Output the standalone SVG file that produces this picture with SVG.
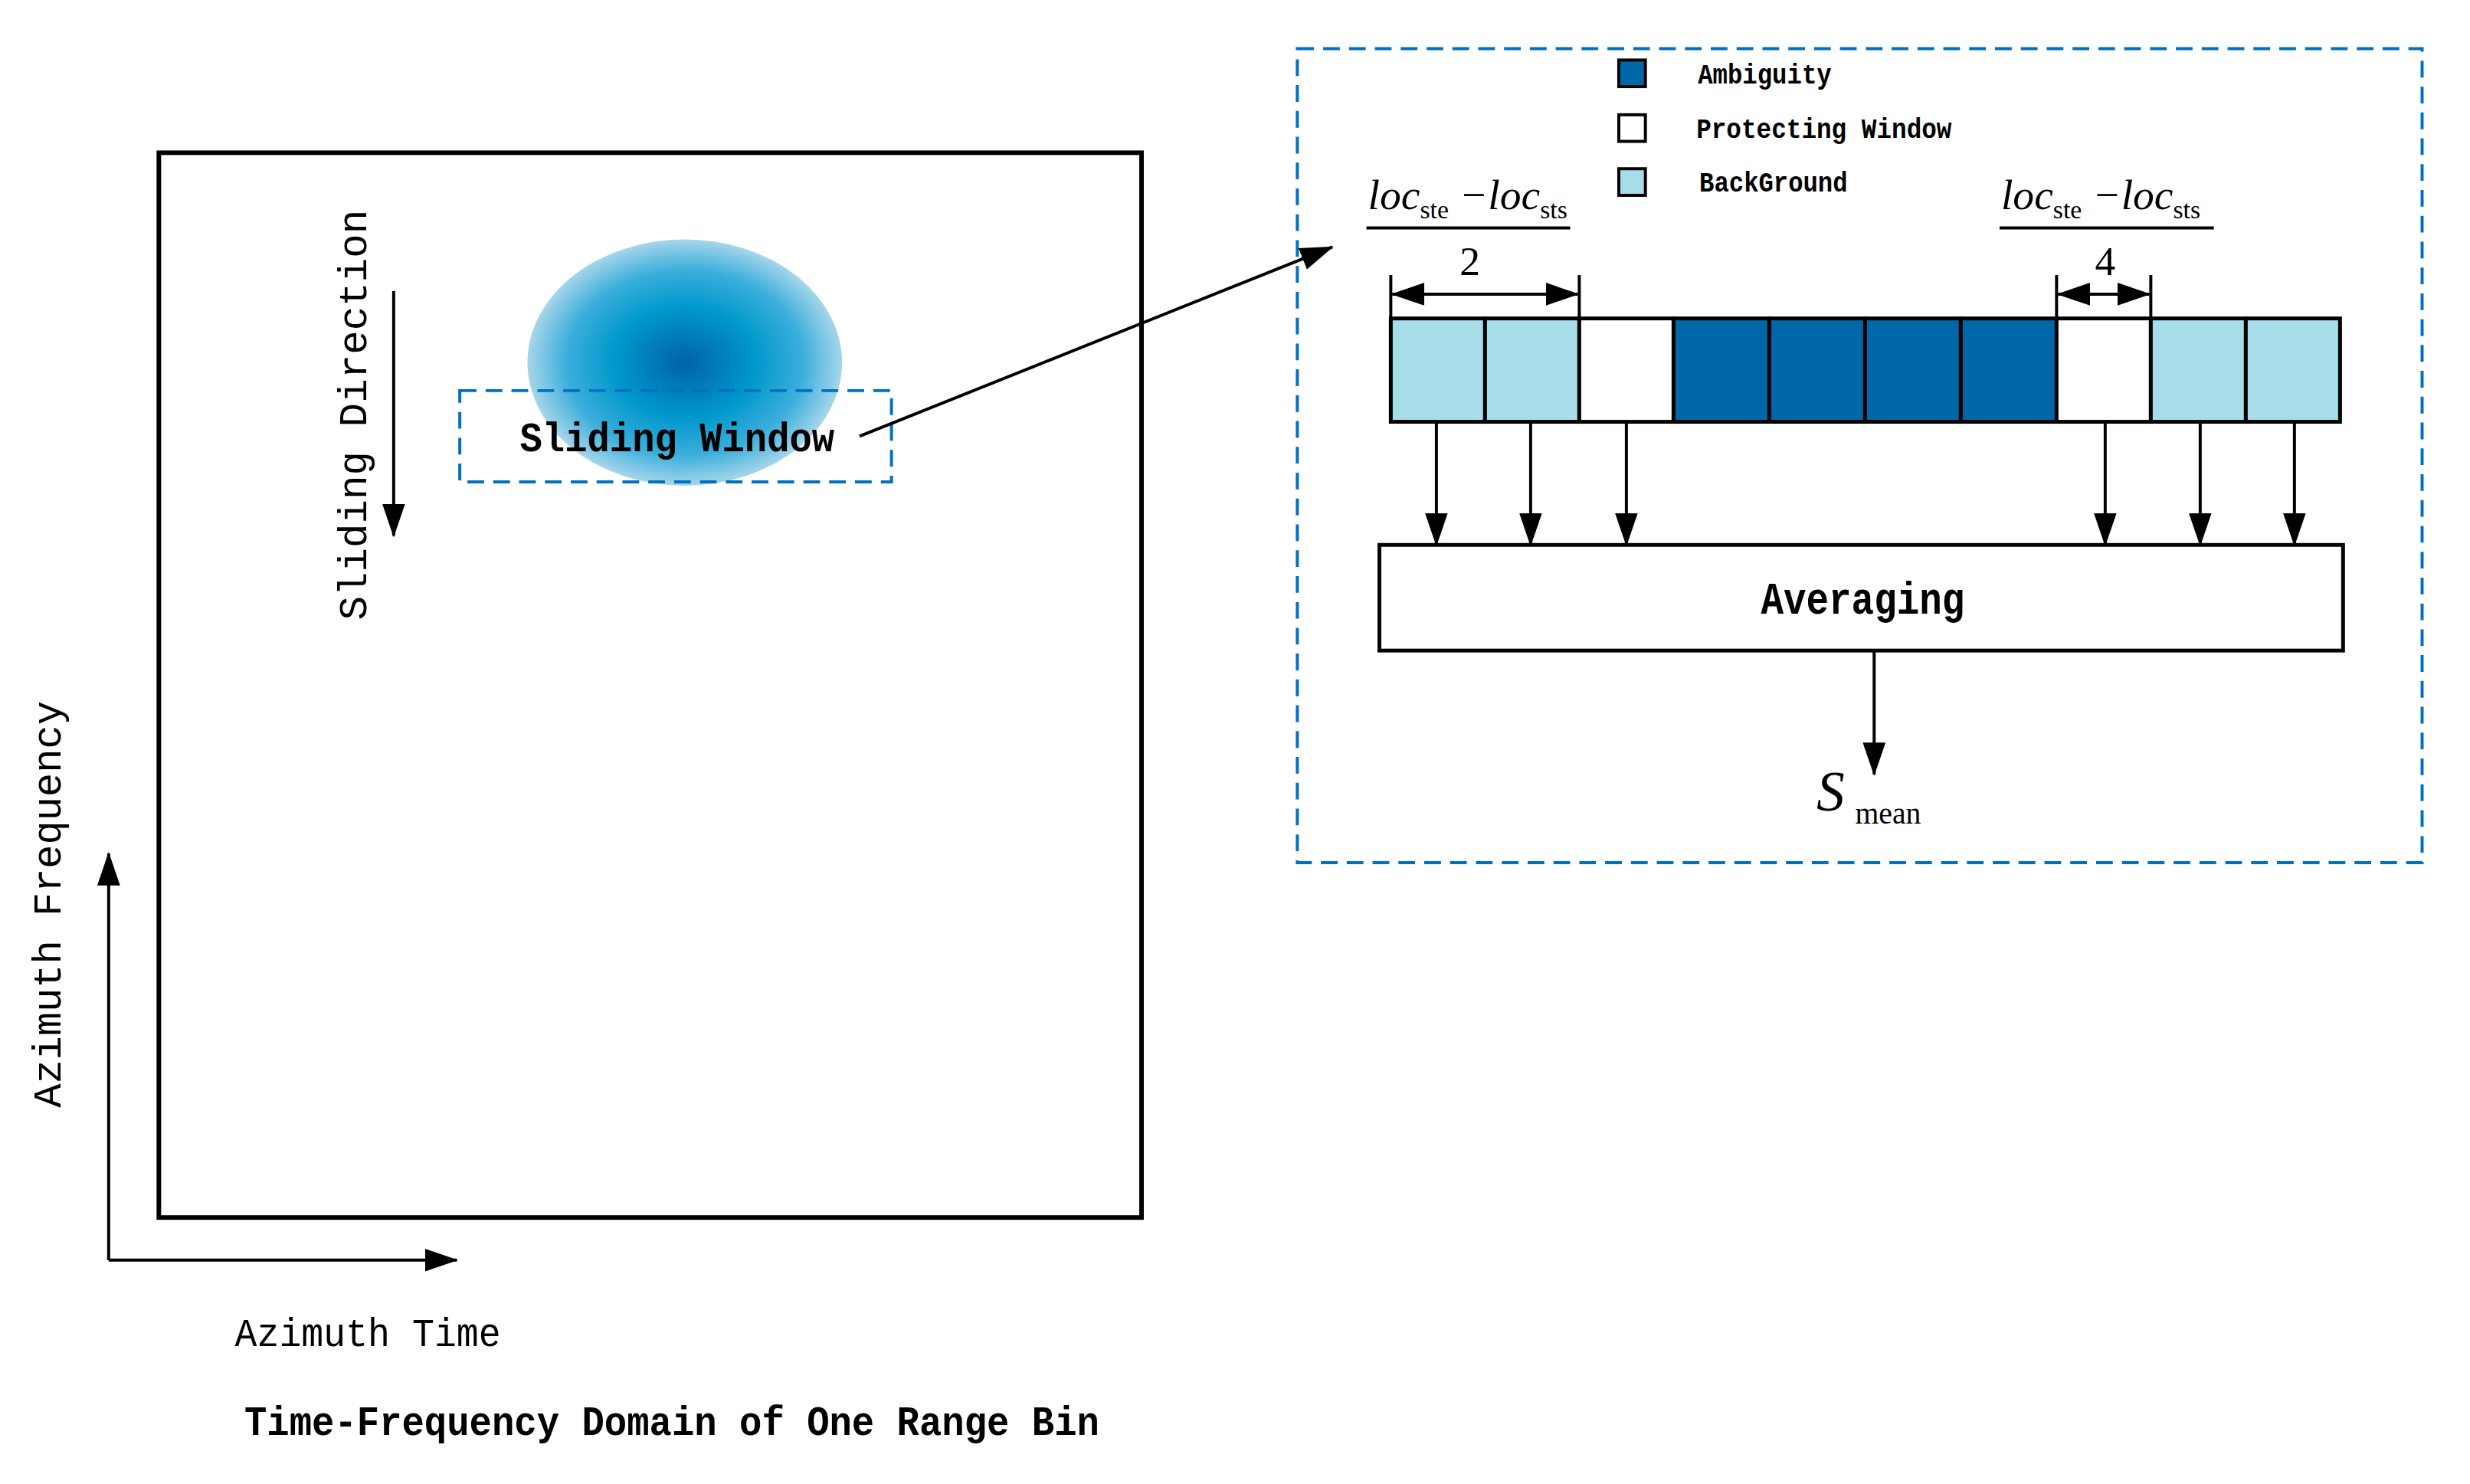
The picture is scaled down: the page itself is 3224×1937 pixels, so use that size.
<svg xmlns="http://www.w3.org/2000/svg" width="3224" height="1937" viewBox="0 0 3224 1937">
<defs>
<marker id="ah" markerUnits="userSpaceOnUse" markerWidth="44" markerHeight="30" refX="42" refY="15" orient="auto-start-reverse"><path d="M0,0 L44,15 L0,30 z" fill="#000"/></marker>
<radialGradient id="blob" cx="0.5" cy="0.5" r="0.5">
<stop offset="0" stop-color="#0062a8"/><stop offset="0.45" stop-color="#0098cc"/><stop offset="0.75" stop-color="#3aaedb"/><stop offset="1" stop-color="#a6d6ea"/>
</radialGradient>
<style>
.ln{stroke:#000;stroke-width:4;fill:none}
.bx{stroke:#000;stroke-width:5;fill:#fff}
.cell{stroke:#000;stroke-width:5}
.lb{fill:#a6dde8}.dk{fill:#0068a8}.wh{fill:#fff}
.dash{stroke:#0070c0;stroke-width:4;fill:none;stroke-dasharray:22 12}
.mono{font-family:"Liberation Mono","DejaVu Sans Mono",monospace}
.ser{font-family:"Liberation Serif","DejaVu Serif",serif}
</style>
</defs>
<rect width="3224" height="1937" fill="#fff"/>
<g transform="scale(0.992)">
<g id="domain">
<rect x="209" y="201" width="1293" height="1401" class="bx" style="fill:none;stroke-width:6"/>
<ellipse cx="901" cy="477" rx="207" ry="162" fill="url(#blob)"/>
</g>
<g id="sliding-window">
<rect x="605" y="514" width="568" height="120" class="dash"/>
<text x="891" y="594" class="mono" font-weight="bold" font-size="54" text-anchor="middle" textLength="414" lengthAdjust="spacingAndGlyphs">Sliding Window</text>
</g>
<g id="labels" class="mono">
<text transform="translate(482,546) rotate(-90)" font-size="52" text-anchor="middle" textLength="540" lengthAdjust="spacingAndGlyphs">Sliding Direction</text>
<text transform="translate(80,1190) rotate(-90)" font-size="52" text-anchor="middle" textLength="535" lengthAdjust="spacingAndGlyphs">Azimuth Frequency</text>
<text x="484" y="1771" font-size="52" text-anchor="middle" textLength="350" lengthAdjust="spacingAndGlyphs">Azimuth Time</text>
<text x="884" y="1888" font-size="54" font-weight="bold" text-anchor="middle" textLength="1125" lengthAdjust="spacingAndGlyphs">Time-Frequency Domain of One Range Bin</text>
</g>
<g id="panel">
<rect x="1707" y="64" width="1480" height="1071" class="dash"/>
</g>
<g id="legend" class="mono" font-weight="bold" font-size="38">
<rect x="2130" y="79" width="35" height="35" class="cell dk" style="stroke-width:4"/>
<rect x="2130" y="151" width="35" height="35" class="cell wh" style="stroke-width:4"/>
<rect x="2130" y="222" width="35" height="35" class="cell lb" style="stroke-width:4"/>
<text x="2234" y="110" textLength="176" lengthAdjust="spacingAndGlyphs">Ambiguity</text>
<text x="2232" y="181" textLength="336" lengthAdjust="spacingAndGlyphs">Protecting Window</text>
<text x="2236" y="252" textLength="195" lengthAdjust="spacingAndGlyphs">BackGround</text>
</g>
<g id="cells">
<rect x="1830" y="419" width="124" height="136" class="cell lb"/>
<rect x="1954" y="419" width="124" height="136" class="cell lb"/>
<rect x="2078" y="419" width="124" height="136" class="cell wh"/>
<rect x="2202" y="419" width="126" height="136" class="cell dk"/>
<rect x="2328" y="419" width="126" height="136" class="cell dk"/>
<rect x="2454" y="419" width="126" height="136" class="cell dk"/>
<rect x="2580" y="419" width="126" height="136" class="cell dk"/>
<rect x="2706" y="419" width="124" height="136" class="cell wh"/>
<rect x="2830" y="419" width="125" height="136" class="cell lb"/>
<rect x="2955" y="419" width="124" height="136" class="cell lb"/>
</g>
<g id="dimensions" class="ser">
<text x="1800" y="275" font-size="56" font-style="italic">loc<tspan font-size="34" font-style="normal" dy="12">ste</tspan><tspan dy="-12"> −loc</tspan><tspan font-size="34" font-style="normal" dy="12">sts</tspan></text>
<line x1="1798" y1="300" x2="2066" y2="300" class="ln"/>
<text x="1934" y="362" font-size="54" text-anchor="middle">2</text>
<text x="2633" y="275" font-size="56" font-style="italic">loc<tspan font-size="34" font-style="normal" dy="12">ste</tspan><tspan dy="-12"> −loc</tspan><tspan font-size="34" font-style="normal" dy="12">sts</tspan></text>
<line x1="2631" y1="300" x2="2913" y2="300" class="ln"/>
<text x="2770" y="362" font-size="54" text-anchor="middle">4</text>
</g>
<g id="averaging">
<rect x="1815" y="717" width="1268" height="139" class="bx"/>
<text x="2451" y="807" class="mono" font-weight="bold" font-size="60" text-anchor="middle" textLength="268" lengthAdjust="spacingAndGlyphs">Averaging</text>
</g>
<g id="output" class="ser">
<text x="2390" y="1067" font-size="74" font-style="italic">S</text>
<text x="2441" y="1084" font-size="40">mean</text>
</g>
<g id="connectors">
<line x1="1131" y1="574" x2="1753" y2="325" class="ln" marker-end="url(#ah)"/>
<line x1="518" y1="383" x2="518" y2="705" class="ln" marker-end="url(#ah)"/>
<line x1="143" y1="1658" x2="143" y2="1123" class="ln" marker-end="url(#ah)"/>
<line x1="143" y1="1658" x2="601" y2="1658" class="ln" marker-end="url(#ah)"/>
<line x1="1830" y1="362" x2="1830" y2="419" class="ln"/>
<line x1="2078" y1="362" x2="2078" y2="419" class="ln"/>
<line x1="1832" y1="387" x2="2076" y2="387" class="ln" marker-start="url(#ah)" marker-end="url(#ah)"/>
<line x1="2706" y1="362" x2="2706" y2="419" class="ln"/>
<line x1="2830" y1="362" x2="2830" y2="419" class="ln"/>
<line x1="2708" y1="387" x2="2828" y2="387" class="ln" marker-start="url(#ah)" marker-end="url(#ah)"/>
<line x1="1890" y1="555" x2="1890" y2="717" class="ln" marker-end="url(#ah)"/>
<line x1="2014" y1="555" x2="2014" y2="717" class="ln" marker-end="url(#ah)"/>
<line x1="2140" y1="555" x2="2140" y2="717" class="ln" marker-end="url(#ah)"/>
<line x1="2770" y1="555" x2="2770" y2="717" class="ln" marker-end="url(#ah)"/>
<line x1="2895" y1="555" x2="2895" y2="717" class="ln" marker-end="url(#ah)"/>
<line x1="3019" y1="555" x2="3019" y2="717" class="ln" marker-end="url(#ah)"/>
<line x1="2466" y1="856" x2="2466" y2="1019" class="ln" marker-end="url(#ah)"/>
</g>
</g>
</svg>
